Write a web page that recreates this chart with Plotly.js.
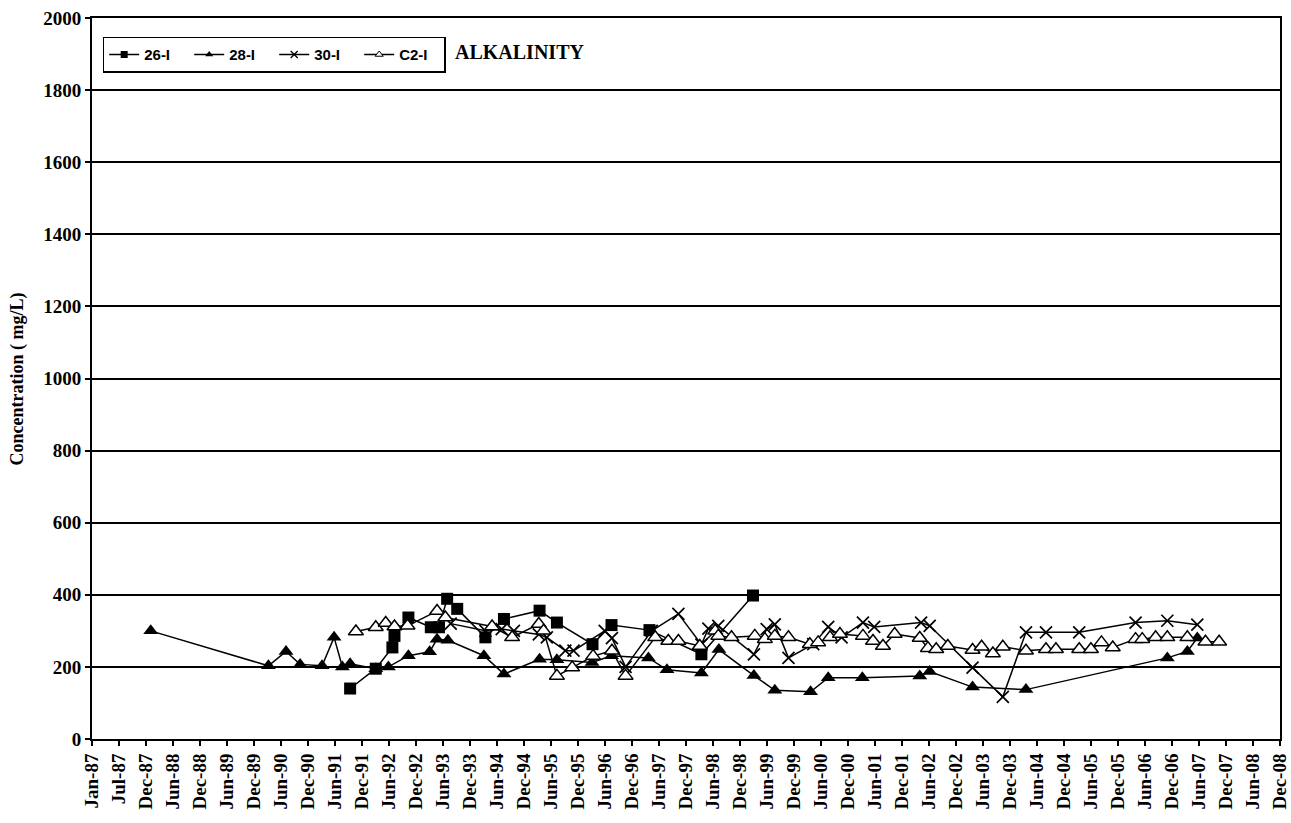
<!DOCTYPE html>
<html>
<head>
<meta charset="utf-8">
<script src="https://cdn.plot.ly/plotly-3.0.1.min.js"></script>
<style>html,body{margin:0;padding:0;background:#fff;}#chart{width:1291px;height:823px;}</style>
</head>
<body>
<div id="chart"></div>
<script>
// ---- Data ----
const tickLabels = ["Jan-87","Jul-87","Dec-87","Jun-88","Dec-88","Jun-89","Dec-89","Jun-90","Dec-90","Jun-91","Dec-91","Jun-92","Dec-92","Jun-93","Dec-93","Jun-94","Dec-94","Jun-95","Dec-95","Jun-96","Dec-96","Jun-97","Dec-97","Jun-98","Dec-98","Jun-99","Dec-99","Jun-00","Dec-00","Jun-01","Dec-01","Jun-02","Dec-02","Jun-03","Dec-03","Jun-04","Dec-04","Jun-05","Dec-05","Jun-06","Dec-06","Jun-07","Dec-07","Jun-08","Dec-08"];

const seriesNames = ["26-I","28-I","30-I","C2-I"];

const dates26 = ["1991-10-07","1992-03-28","1992-07-18","1992-08-01","1992-11-03","1993-04-03","1993-05-28","1993-07-22","1993-09-28","1994-04-06","1994-08-09","1995-04-06","1995-08-01","1996-03-28","1996-08-03","1997-04-16","1998-04-01","1999-03-15"];
const vals26  = [140,195,254,286,337,310,310,389,361,282,333,356,323,263,316,302,235,398];

const dates28 = ["1988-02-01","1990-04-04","1990-08-01","1990-11-04","1991-04-01","1991-06-21","1991-08-16","1991-10-07","1992-03-28","1992-06-21","1992-11-03","1993-03-26","1993-05-15","1993-07-27","1994-03-27","1994-08-09","1995-04-06","1995-08-01","1996-03-25","1996-08-03","1997-04-09","1997-08-12","1998-04-01","1998-07-28","1999-03-21","1999-08-09","2000-04-06","2000-08-03","2001-03-21","2002-04-12","2002-06-18","2003-04-03","2004-03-28","2006-11-06","2007-03-21","2007-05-27"];
const vals28  = [300,203,243,207,203,282,200,209,195,200,231,242,277,274,231,180,221,220,212,231,225,192,183,248,176,135,131,170,170,175,187,144,137,225,243,280];

const dates30 = ["1993-08-15","1994-04-06","1994-07-25","1994-10-15","1995-04-01","1995-05-25","1995-09-27","1995-11-21","1996-06-18","1996-08-06","1996-11-06","1997-05-01","1997-10-28","1998-04-01","1998-05-18","1998-07-24","1999-03-21","1999-06-15","1999-08-09","1999-11-09","2000-04-24","2000-08-03","2000-11-01","2001-03-25","2001-06-09","2002-04-21","2002-06-18","2003-04-03","2003-10-24","2004-03-28","2004-08-10","2005-03-22","2006-04-06","2006-11-06","2007-05-27"];
const vals30  = [320,300,305,300,290,282,245,245,300,280,200,300,347,262,306,314,235,305,318,225,263,311,282,323,311,323,314,198,117,296,296,296,323,328,317];

const datesC2 = ["1991-11-15","1992-03-28","1992-06-03","1992-08-01","1992-10-28","1993-05-15","1993-07-10","1994-05-21","1994-10-03","1995-04-01","1995-05-03","1995-08-01","1995-11-12","1996-04-01","1996-08-06","1996-11-06","1997-05-25","1997-08-21","1997-10-28","1998-03-21","1998-07-03","1998-07-24","1998-10-21","1999-03-27","1999-06-03","1999-08-09","1999-11-09","2000-04-01","2000-05-27","2000-08-15","2000-10-21","2001-03-25","2001-06-01","2001-08-07","2001-10-25","2002-04-12","2002-06-06","2002-08-01","2002-10-18","2003-04-03","2003-06-03","2003-08-18","2003-10-24","2004-03-28","2004-08-10","2004-10-16","2005-03-22","2005-06-09","2005-08-19","2005-11-03","2006-04-06","2006-05-21","2006-08-19","2006-11-06","2007-03-21","2007-07-21","2007-10-21"];
const valsC2  = [298,310,322,312,314,355,337,312,282,319,300,175,198,230,245,175,282,272,272,258,300,286,282,286,277,286,282,263,268,282,291,286,272,258,291,280,252,249,258,247,256,237,256,245,249,249,249,249,268,254,277,277,282,282,282,270,270];

// ---- Tick positions: Excel-style date axis, major unit 182 days ----
const DAY = 86400000;
const t0 = Date.UTC(1987,0,1);
const tickVals = tickLabels.map((_, i) => new Date(t0 + i*182*DAY).toISOString().slice(0,10));
const rangeEnd = new Date(t0 + ((tickLabels.length-1)*182 + 0.5)*DAY).toISOString().slice(0,19);

const lineStyle = {color:'#000', width:1.5};
const markers = [
  {symbol:'square', color:'#000', size:12},
  {symbol:'triangle-up', color:'#000', size:13},
  {symbol:'x-thin', color:'#000', size:12, line:{color:'#000', width:1.7}},
  {symbol:'triangle-up', color:'#fff', size:13, line:{color:'#000', width:1.5}}
];
const xs = [dates26, dates28, dates30, datesC2];
const ys = [vals26, vals28, vals30, valsC2];

const traces = [];
seriesNames.forEach((n, i) => {
  traces.push({name:n, x:xs[i], y:ys[i], mode:'lines+markers', line:lineStyle,
    marker:markers[i], showlegend:false});
});
// legend-only entries with small markers, as in the reference legend
seriesNames.forEach((n, i) => {
  const m = Object.assign({}, markers[i], {size:7});
  if (m.line) m.line = Object.assign({}, m.line, {width: i===2 ? 1.3 : 1});
  traces.push({name:n, x:[null], y:[null], mode:'lines+markers', line:lineStyle,
    marker:m, showlegend:true, hoverinfo:'skip'});
});

const serifBold = {family:'Liberation Serif, Times New Roman, serif', size:19, color:'#000', weight:'bold'};

const layout = {
  width:1291, height:823,
  margin:{l:92, r:11, t:18, b:84, pad:0},
  paper_bgcolor:'#fff', plot_bgcolor:'#fff',
  showlegend:true,
  legend:{
    orientation:'h', x:0.009, y:0.974, xanchor:'left', yanchor:'top',
    bordercolor:'#000', borderwidth:1.5, bgcolor:'#fff',
    font:{family:'Liberation Sans, Arial, sans-serif', size:15, color:'#000', weight:'bold'},
    itemwidth:30, entrywidth:40, tracegroupgap:0,
    itemsizing:'trace'
  },
  xaxis:{
    type:'date',
    range:[tickVals[0], rangeEnd],
    tickmode:'array', tickvals:tickVals, ticktext:tickLabels,
    tickangle:-90, tickfont:serifBold, ticklabeloverflow:'allow',
    ticks:'outside', ticklen:5, tickwidth:1.5, tickcolor:'#000',
    showgrid:false, zeroline:false,
    showline:true, linecolor:'#000', linewidth:2, mirror:true
  },
  yaxis:{
    range:[0,2000], dtick:200, tick0:0,
    tickfont:serifBold,
    ticks:'outside', ticklen:5, tickwidth:1.5, tickcolor:'#000',
    showgrid:true, gridcolor:'#000', gridwidth:1.5,
    zeroline:false,
    showline:true, linecolor:'#000', linewidth:2, mirror:true
  },
  annotations:[{
    text:'ALKALINITY', xref:'paper', yref:'paper', x:0.304, y:0.953,
    xanchor:'left', yanchor:'middle', showarrow:false,
    font:{family:'Liberation Serif, Times New Roman, serif', size:20, color:'#000', weight:'bold'}
  },{
    text:'Concentration ( mg/L)', xref:'paper', yref:'paper', x:-0.0623, y:0.5,
    xanchor:'center', yanchor:'middle', textangle:-90, showarrow:false,
    font:{family:'Liberation Serif, Times New Roman, serif', size:18, color:'#000', weight:'bold'}
  }]
};

Plotly.newPlot('chart', traces, layout, {displayModeBar:false, responsive:false});
</script>
</body>
</html>
